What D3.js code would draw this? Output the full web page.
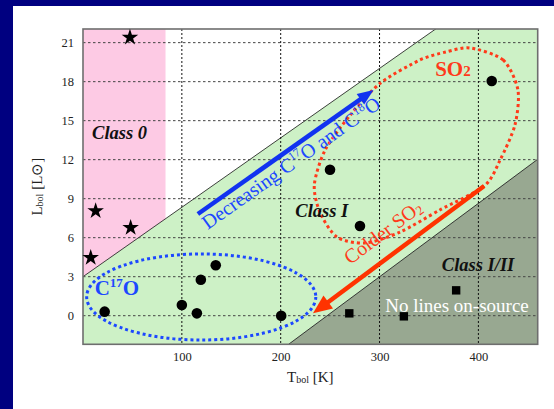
<!DOCTYPE html>
<html><head><meta charset="utf-8">
<script src="https://cdn.jsdelivr.net/npm/d3@7"></script>
<style>
html,body{margin:0;padding:0;background:#000080;}
svg{display:block;}
svg text{font-family:"Liberation Serif","Times New Roman",serif;}
</style></head>
<body>
<script>
// ---- data ----
const xTicks = [100, 200, 300, 400];
const yTicks = [0, 3, 6, 9, 12, 15, 18, 21];
const class0T = [47.5, 12.8, 48.2, 7.8];
const class0L = [21.4, 8.05, 6.77, 4.46];
const class1T = [21.9, 100, 115.2, 119.2, 134.3, 200.5, 249.9, 280.2, 413.5];
const class1L = [0.31, 0.82, 0.18, 2.77, 3.88, 0.0, 11.23, 6.9, 18.05];
const class2T = [269.4, 324.6, 377.5];
const class2L = [0.18, -0.05, 1.95];
const so2OutlineT = [391.6, 425, 440, 437, 422, 406, 361, 321, 285.5, 257, 240, 234, 245, 270.5, 301, 341, 367];
const so2OutlineL = [20.59, 19.67, 17.36, 14.67, 11.98, 9.98, 8.13, 6.44, 5.59, 6.05, 7.9, 10.05, 12.75, 15.44, 17.9, 19.67, 20.28];

const W = 554, H = 409;
const plot = {l: 83, r: 537.7, t: 29, b: 344.3};
const x = d3.scaleLinear().domain([0, 460]).range([plot.l, plot.r]);
const y = d3.scaleLinear().domain([-2.2, 22.05]).range([plot.b, plot.t]);

const svg = d3.select("body").append("svg").attr("width", W).attr("height", H);
svg.append("rect").attr("x", 13).attr("y", 6).attr("width", W - 13).attr("height", H - 6).attr("fill", "#ffffff");

const defs = svg.append("defs");
defs.append("clipPath").attr("id", "clip").append("rect")
  .attr("x", plot.l).attr("y", plot.t).attr("width", plot.r - plot.l).attr("height", plot.b - plot.t);

const g = svg.append("g").attr("clip-path", "url(#clip)");
const [T0, T1] = x.domain(), [L0, L1] = y.domain();
const upper = t => 3 + t * 0.0534;
const lower = t => -2.2 + (t - 208) * (14.23 / 252);
const poly = pts => "M" + pts.map(p => x(p[0]) + "," + y(p[1])).join("L") + "Z";

g.append("path").attr("fill", "#cdf1c6").attr("d", poly([
  [T0, upper(T0)], [T1, upper(T1)], [T1, lower(T1)], [208, L0], [T0, L0]
]));
g.append("path").attr("fill", "#98a891").attr("d", poly([[208, L0], [T1, lower(T1)], [T1, L0]]));
const pinkT = 83.5;
g.append("path").attr("fill", "#fdcae4").attr("d", poly([[T0, L1], [pinkT, L1], [pinkT, upper(pinkT)], [T0, upper(T0)]]));
g.append("line").attr("x1", x(T0)).attr("y1", y(upper(T0))).attr("x2", x(T1)).attr("y2", y(upper(T1)))
  .attr("stroke", "#111").attr("stroke-width", 0.8);
g.append("line").attr("x1", x(208)).attr("y1", y(L0)).attr("x2", x(T1)).attr("y2", y(lower(T1)))
  .attr("stroke", "#111").attr("stroke-width", 0.8);

g.selectAll(".hg").data(yTicks).join("line")
  .attr("x1", plot.l).attr("x2", plot.r).attr("y1", d => y(d)).attr("y2", d => y(d))
  .attr("stroke", "#444").attr("stroke-width", 1).attr("stroke-dasharray", "2.5,2.5");
g.selectAll(".vg").data(xTicks).join("line")
  .attr("y1", plot.t).attr("y2", plot.b).attr("x1", d => x(d)).attr("x2", d => x(d))
  .attr("stroke", "#111").attr("stroke-width", 1).attr("stroke-dasharray", "2,2");

svg.append("rect").attr("x", plot.l).attr("y", plot.t).attr("width", plot.r - plot.l).attr("height", plot.b - plot.t)
  .attr("fill", "none").attr("stroke", "#6e6e6e").attr("stroke-width", 1.6);

const font = "'Liberation Serif', 'Times New Roman', serif";
const xAxis = d3.axisBottom(x).tickValues(xTicks).tickSize(0).tickPadding(8);
const xa = svg.append("g").attr("transform", `translate(0,${plot.b})`).call(xAxis);
const yAxis = d3.axisLeft(y).tickValues(yTicks).tickSize(0).tickPadding(9);
const ya = svg.append("g").attr("transform", `translate(${plot.l},0)`).call(yAxis);
[xa, ya].forEach(a => {
  a.attr("font-family", font);
  a.select(".domain").remove();
  a.selectAll("text").attr("font-family", font).attr("font-size", 12.5).attr("fill", "#222");
});

const xt = svg.append("text").attr("x", (plot.l + plot.r) / 2).attr("y", 382).attr("text-anchor", "middle")
  .attr("font-family", font).attr("font-size", 15).attr("fill", "#222");
xt.append("tspan").text("T");
xt.append("tspan").attr("font-size", 10).attr("dy", 1).text("bol");
xt.append("tspan").attr("dy", -1).text(" [K]");
const yt = svg.append("text").attr("transform", `translate(42,${(plot.t + plot.b) / 2}) rotate(-90)`).attr("text-anchor", "middle")
  .attr("font-family", font).attr("font-size", 15).attr("fill", "#222");
yt.append("tspan").text("L");
yt.append("tspan").attr("font-size", 10).attr("dy", 1).text("bol");
yt.append("tspan").attr("dy", -1).text(" [L\u2299]");

const blueC = "#1c48ff", redC = "#ff3a1a";
const ecT = 119.6, ecL = 1.44, erT = 115.9, erL = 3.31;
svg.append("ellipse").attr("cx", x(ecT)).attr("cy", y(ecL))
  .attr("rx", x(ecT + erT) - x(ecT)).attr("ry", y(ecL) - y(ecL + erL))
  .attr("fill", "none").attr("stroke", blueC).attr("stroke-width", 3).attr("stroke-dasharray", "3,3");
const so2 = so2OutlineT.map((t, i) => [t, so2OutlineL[i]]);
svg.append("path").attr("d", d3.line().x(d => x(d[0])).y(d => y(d[1])).curve(d3.curveCardinalClosed.tension(0.2))(so2))
  .attr("fill", "none").attr("stroke", redC).attr("stroke-width", 3).attr("stroke-dasharray", "3,3");

function arrow(t1, l1, t2, l2, color, w, hl, hw) {
  const x1 = x(t1), y1 = y(l1), x2 = x(t2), y2 = y(l2);
  const a = Math.atan2(y2 - y1, x2 - x1);
  const bx = x2 - hl * Math.cos(a), by = y2 - hl * Math.sin(a);
  svg.append("line").attr("x1", x1).attr("y1", y1).attr("x2", bx + 2 * Math.cos(a)).attr("y2", by + 2 * Math.sin(a))
    .attr("stroke", color).attr("stroke-width", w);
  const px = -Math.sin(a), py = Math.cos(a);
  svg.append("path").attr("d", `M${x2},${y2}L${bx + hw * px},${by + hw * py}L${bx - hw * px},${by - hw * py}Z`).attr("fill", color);
  return a * 180 / Math.PI;
}
const aBlue = arrow(116.2, 7.82, 293.9, 17.36, "#1133f0", 4.5, 16, 6.5);
const aRed = arrow(405.8, 9.98, 232.7, 0.18, "#ff3300", 4.5, 19, 8) + 180;

const star = d3.symbol().type(d3.symbolStar).size(85);
svg.selectAll(".st").data(class0T).join("path")
  .attr("transform", (d, i) => `translate(${x(d)},${y(class0L[i])})`).attr("d", star).attr("fill", "#000");
svg.selectAll(".ci").data(class1T).join("circle")
  .attr("cx", d => x(d)).attr("cy", (d, i) => y(class1L[i])).attr("r", 5.3).attr("fill", "#000");
svg.selectAll(".sq").data(class2T).join("rect")
  .attr("x", d => x(d) - 4.2).attr("y", (d, i) => y(class2L[i]) - 4.2).attr("width", 8.4).attr("height", 8.4).attr("fill", "#000");

function label(t, l, txt, size, opts = {}) {
  return svg.append("text").attr("x", x(t)).attr("y", y(l)).attr("font-family", font).attr("font-size", size)
    .attr("font-weight", opts.bold ? "bold" : "normal").attr("font-style", opts.italic ? "italic" : "normal")
    .attr("fill", opts.color || "#111").text(txt);
}
label(9.2, 13.6, "Class 0", 18.5, {bold: true, italic: true});
label(214.8, 7.6, "Class I", 18.5, {bold: true, italic: true});
label(363, 3.45, "Class I/II", 18.5, {bold: true, italic: true});
label(305.8, 0.3, "No lines on-source", 19, {color: "#ffffff"});

const c17 = label(11.8, 1.59, "C", 21, {bold: true, color: blueC});
c17.append("tspan").attr("font-size", 13).attr("dy", -8).text("17");
c17.append("tspan").attr("dy", 8).text("O");
const s2 = label(356.3, 18.45, "SO", 21, {bold: true, color: redC});
s2.append("tspan").attr("font-size", 15).text("2");

const dx = x(126.2), dy = y(6.59);
const dt = svg.append("text").attr("transform", `translate(${dx},${dy}) rotate(${aBlue})`)
  .attr("font-family", font).attr("font-size", 20).attr("fill", blueC);
dt.append("tspan").text("Decreasing C");
dt.append("tspan").attr("font-size", 12).attr("dy", -8).text("17");
dt.append("tspan").attr("dy", 8).text("O and C");
dt.append("tspan").attr("font-size", 12).attr("dy", -8).text("18");
dt.append("tspan").attr("dy", 8).text("O");

const cx0 = x(270.4), cy0 = y(3.9);
const ct = svg.append("text").attr("transform", `translate(${cx0},${cy0}) rotate(${aRed})`)
  .attr("font-family", font).attr("font-size", 20).attr("fill", redC);
ct.append("tspan").text("Colder SO");
ct.append("tspan").attr("font-size", 13).attr("dy", 2).text("2");
</script>
</body></html>
